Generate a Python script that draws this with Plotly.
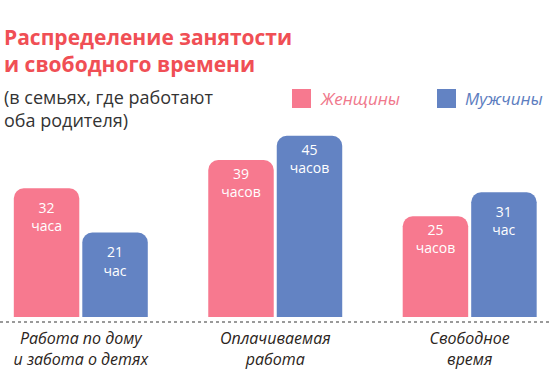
import plotly.graph_objects as go

categories = ["Работа по дому<br>и забота о детях", "Оплачиваемая<br>работа", "Свободное<br>время"]
series_names = ["Женщины", "Мужчины"]
women = [32, 39, 25]
men = [21, 45, 31]
women_units = ["часа", "часов", "часов"]
men_units = ["час", "часов", "час"]

PINK = "#f7798f"
BLUE = "#6383c3"
W, H = 550, 369
T, B = 120, 52
PLOT_TOP, PLOT_BOT = T, H - B


def py(p):
    return (PLOT_BOT - p) / (PLOT_BOT - PLOT_TOP)


def px(p):
    return p / W


fig = go.Figure()
for name, vals, units, col in [(series_names[0], women, women_units, PINK),
                               (series_names[1], men, men_units, BLUE)]:
    fig.add_trace(go.Bar(
        x=categories, y=vals, name=name, customdata=units,
        marker=dict(color=col, line=dict(width=0)),
        texttemplate="<br>%{y}<br>%{customdata}",
        textposition="inside", insidetextanchor="end",
        textangle=0, constraintext="none",
        textfont=dict(family="Open Sans", size=14, color="white"),
        showlegend=False, hoverinfo="skip",
    ))

k = 4.025
fig.update_layout(
    width=W, height=H,
    margin=dict(l=0, r=0, t=T, b=B, pad=0),
    paper_bgcolor="white", plot_bgcolor="white",
    barmode="group", bargap=0.2955, bargroupgap=0.044,
    barcornerradius=10,
    xaxis=dict(type="category", range=[-0.4155, 2.413], showgrid=False,
               showline=False, zeroline=False, ticks="", automargin=False,
               tickfont=dict(family="Open Sans", size=16, color="#2b2420", style="italic"),
               ticklabelstandoff=10),
    yaxis=dict(range=[0, (PLOT_BOT - PLOT_TOP) / k], visible=False, fixedrange=True),
    font=dict(family="Open Sans"),
)

# dotted baseline
fig.add_shape(type="line", xref="paper", yref="paper", x0=0, x1=1,
              y0=py(322), y1=py(322), line=dict(color="#9a9a9a", width=2, dash="dot"))

# title & subtitle
fig.add_annotation(text="<b>Распределение занятости<br>и свободного времени</b>",
                   xref="paper", yref="paper", x=px(2), y=py(21), xanchor="left", yanchor="top",
                   align="left", showarrow=False,
                   font=dict(family="Open Sans", size=21, color="#f04f55"))
fig.add_annotation(text="(в семьях, где работают<br>оба родителя)",
                   xref="paper", yref="paper", x=px(2), y=py(83), xanchor="left", yanchor="top",
                   align="left", showarrow=False,
                   font=dict(family="Open Sans", size=18, color="#333333"))

# legend
for (x0, txt_x, name, col, tcol) in [(292, 318, series_names[0], PINK, "#f0788c"),
                                     (437, 463, series_names[1], BLUE, "#5c7dc0")]:
    fig.add_shape(type="rect", xref="paper", yref="paper",
                  x0=px(x0), x1=px(x0 + 19), y0=py(108), y1=py(89),
                  fillcolor=col, line=dict(width=0))
    fig.add_annotation(text=name, xref="paper", yref="paper", x=px(txt_x), y=py(98.5),
                       xanchor="left", yanchor="middle", showarrow=False,
                       font=dict(family="Open Sans", size=17, color=tcol, style="italic"))

fig.write_html("out.html", config={"displayModeBar": False},
               post_script="document.body.style.margin='0px';")
